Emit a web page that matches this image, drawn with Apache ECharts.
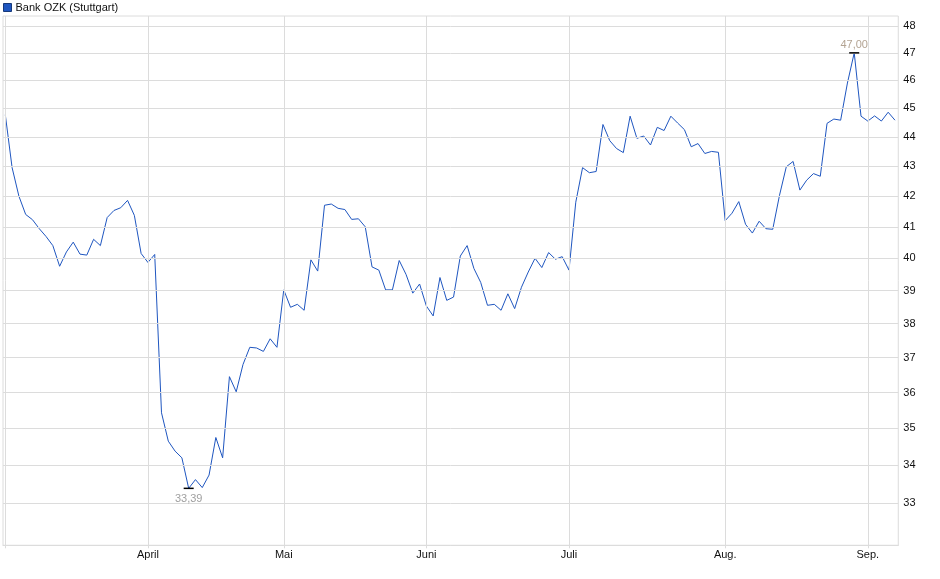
<!DOCTYPE html>
<html>
<head>
<meta charset="utf-8">
<script src="https://cdn.jsdelivr.net/npm/echarts@6/dist/echarts.min.js"></script>
<style>
html,body{margin:0;padding:0;background:#fff;}
#c{width:940px;height:579px;}
</style>
</head>
<body>
<div id="c"></div>
<script>
const seriesName = 'Bank OZK (Stuttgart)';
// trading-day closes, Mar 3 – Sep 5
const marValues = [44.77, 42.95, 42.0, 41.4, 41.23, 40.94, 40.69, 40.4, 39.75, 40.2, 40.51, 40.13, 40.1, 40.6, 40.4, 41.3, 41.53, 41.62, 41.86, 41.37, 40.15];
const aprValues = [39.87, 40.12, 35.43, 34.65, 34.38, 34.2, 33.39, 33.62, 33.41, 33.74, 34.75, 34.2, 36.45, 36.02, 36.8, 37.3, 37.28, 37.18, 37.55, 37.3];
const mayValues = [39.02, 38.49, 38.58, 38.4, 39.95, 39.6, 41.7, 41.74, 41.6, 41.56, 41.24, 41.26, 41.0, 39.73, 39.63, 39.02, 39.02, 39.93, 39.5, 38.92, 39.2];
const junValues = [38.53, 38.23, 39.4, 38.7, 38.8, 40.07, 40.4, 39.68, 39.25, 38.55, 38.58, 38.4, 38.9, 38.45, 39.1, 39.57, 40.0, 39.71, 40.18, 39.97, 40.05];
const julValues = [39.63, 41.8, 42.95, 42.78, 42.82, 44.43, 43.87, 43.6, 43.46, 44.72, 43.95, 44.03, 43.72, 44.33, 44.22, 44.72, 44.48, 44.25, 43.66, 43.77, 43.43, 43.5, 43.47];
const augValues = [41.2, 41.44, 41.82, 41.08, 40.8, 41.18, 40.94, 40.92, 42.03, 42.98, 43.16, 42.2, 42.53, 42.75, 42.66, 44.47, 44.62, 44.58, 45.9, 47.0, 44.72];
const sepValues = [44.55, 44.73, 44.55, 44.86, 44.58];

const monthNames = ['', 'April', 'Mai', 'Juni', 'Juli', 'Aug.', 'Sep.'];
const yTicks = [33, 34, 35, 36, 37, 38, 39, 40, 41, 42, 43, 44, 45, 46, 47, 48];

const monthBlocks = [marValues, aprValues, mayValues, junValues, julValues, augValues, sepValues];
const values = [].concat(...monthBlocks);
const monthStarts = [];
let acc = 0;
monthBlocks.forEach(b => { monthStarts.push(acc); acc += b.length; });
const points = values.map((v, i) => [i, v]);

const gridColor = '#dcdcdc';
const fontFam = '"Liberation Sans", Arial, sans-serif';

const chart = echarts.init(document.getElementById('c'), null, {renderer: 'canvas'});
chart.setOption({
  animation: false,
  backgroundColor: '#fff',
  textStyle: {fontFamily: fontFam},
  legend: {
    data: [seriesName],
    left: 3, top: 2, padding: 0,
    icon: 'rect', itemWidth: 8, itemHeight: 8, itemGap: 4,
    textStyle: {fontSize: 11, color: '#111', fontFamily: fontFam, padding: [0, 0, 0, -1]},
    itemStyle: {color: '#1f56c0', borderColor: '#17397a', borderWidth: 1}
  },
  grid: {
    left: 3, right: 41.7, top: 16, bottom: 33.7,
    show: true, borderColor: gridColor, borderWidth: 1
  },
  xAxis: {
    type: 'value',
    min: -0.34, max: values.length - 1 + 0.49,
    axisLine: {show: true, lineStyle: {color: gridColor}},
    axisTick: {show: true, customValues: monthStarts, length: 3, lineStyle: {color: gridColor}},
    splitLine: {show: false},
    axisLabel: {
      customValues: monthStarts.slice(1),
      fontSize: 11, color: '#111', margin: 4, fontFamily: fontFam,
      formatter: v => monthNames[monthStarts.indexOf(v)] || ''
    }
  },
  yAxis: {
    type: 'log', logBase: 10,
    min: 31.93, max: 48.38,
    position: 'right',
    axisLine: {show: false},
    axisTick: {show: false},
    splitLine: {show: false},
    axisLabel: {
      customValues: yTicks,
      fontSize: 11, color: '#111', margin: 5, fontFamily: fontFam,
      formatter: v => String(Math.round(v))
    }
  },
  series: [
    {
      name: 'grid',
      type: 'line',
      z: 1,
      data: points,
      showSymbol: false,
      silent: true,
      lineStyle: {opacity: 0},
      markLine: {
        silent: true,
        symbol: ['none', 'none'],
        label: {show: false},
        lineStyle: {color: gridColor, type: 'solid', width: 1},
        emphasis: {disabled: true},
        data: yTicks.map(v => ({yAxis: v})).concat(monthStarts.map(i => ({xAxis: i})))
      }
    },
    {
      name: seriesName,
      type: 'line',
      z: 3,
      data: points,
      showSymbol: false,
      lineStyle: {color: '#1f56c0', width: 1},
      itemStyle: {color: '#1f56c0'},
      markPoint: {
        symbol: 'rect',
        symbolSize: [10, 1.5],
        itemStyle: {color: '#000'},
        silent: true,
        data: [
          {type: 'min', label: {position: 'bottom', distance: 4, color: '#a0a0a0'}},
          {type: 'max', label: {position: 'top', distance: 2, color: '#b3a392'}}
        ],
        label: {
          show: true, fontSize: 11, fontFamily: fontFam,
          formatter: p => Number(p.value).toFixed(2).replace('.', ',')
        }
      }
    }
  ]
});
</script>
</body>
</html>
